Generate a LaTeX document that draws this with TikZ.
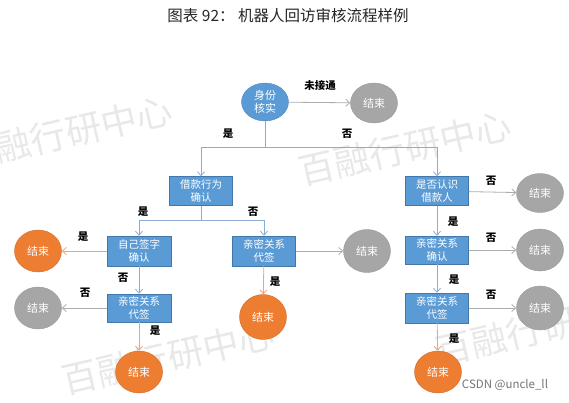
\documentclass[tikz,border=0pt]{standalone}
\usepackage{fontspec}
\setmainfont{Noto Sans CJK SC}
\usetikzlibrary{positioning,arrows.meta,shapes.geometric}
\definecolor{boxblue}{RGB}{91,155,213}
\definecolor{boxedge}{RGB}{65,119,170}
\definecolor{endgray}{RGB}{166,166,166}
\definecolor{endorange}{RGB}{237,125,49}
\definecolor{linkblue}{RGB}{140,172,212}
\definecolor{linkgray}{RGB}{172,172,172}
\definecolor{linkorange}{RGB}{238,165,125}
\definecolor{wmark}{RGB}{232,232,232}
\tikzset{
  chkbox/.style ={rectangle, draw=boxedge, fill=boxblue, text=white, minimum width=63pt,
                minimum height=29pt, inner sep=1pt, align=center, font=\fontsize{10.5}{13.5}\selectfont},
  endnode/.style ={ellipse, minimum width=47pt, minimum height=42pt, inner sep=0pt, align=center,
                text=white, font=\fontsize{11}{13}\selectfont},
  endgrey/.style ={endnode, fill=endgray, draw=endgray!92!black},
  endorg/.style ={endnode, fill=endorange, draw=endorange!88!black},
  ans/.style ={font=\fontsize{10.5}{12}\selectfont\bfseries},
  wm/.style ={text=wmark, font=\fontsize{36}{40}\selectfont, rotate=13},
  blink/.style ={-{Straight Barb[length=4pt,width=7pt]}, draw=linkblue, line width=0.8pt},
  glink/.style ={-{Straight Barb[length=4pt,width=7pt]}, draw=linkgray, line width=0.8pt},
  olink/.style ={-{Straight Barb[length=4pt,width=7pt]}, draw=linkorange, line width=0.8pt},
}
\begin{document}
\begin{tikzpicture}[x=1pt, y=-1pt]
\useasboundingbox (0,0) rectangle (569,402);
% watermarks
\begin{scope}
\clip (0,0) rectangle (569,402);
\node[wm] (wm1) at (66,133) {百融行研中心};
\node[wm] (wm2) at (405,148) {百融行研中心};
\node[wm] (wm3) at (168,357) {百融行研中心};
\node[wm] (wm4) at (542,328) {百融行研中心};
\end{scope}
\node[text=black!85, font=\fontsize{15.5}{18}\selectfont] (title) at (288,16) {图表 92： 机器人回访审核流程样例};

% first check
\node[endnode, fill=boxblue, draw=boxblue!90!black, minimum height=38pt,
      font=\fontsize{11}{12.5}\selectfont] (verify) at (265,102) {身份\\核实};
\node[endgrey, minimum height=40pt] (end0) at (374,103) {结束};
\draw[glink] (verify) -- (end0);
\node[ans] (l0) at (320,86) {未接通};

% second level
\node[chkbox] (loan) at (201,191) {借款行为\\确认};
\node[chkbox] (know) at (437,191) {是否认识\\借款人};
\coordinate (j1) at (265,147);
\draw[blink] (verify) -- (j1) -| (loan);
\draw[blink] (j1) -| (know);
\node[ans] (l1) at (228,134) {是};
\node[ans] (l2) at (347,134) {否};

% left branch
\node[chkbox, minimum width=64pt, minimum height=30pt] (self) at (139,251) {自己签字\\确认};
\node[chkbox, minimum height=30pt] (proxyA) at (264,251) {亲密关系\\代签};
\coordinate (j2) at (201,220);
\draw[blink] (loan) -- (j2) -| (self);
\draw[blink] (j2) -| (proxyA);
\node[ans] (l3) at (143,212) {是};
\node[ans] (l4) at (253,212) {否};

\node[endorg] (end1) at (38,251) {结束};
\draw[olink] (self) -- (end1);
\node[ans] (l5) at (83,237) {是};

\node[chkbox, minimum width=64pt, minimum height=28pt] (proxyB) at (139,308) {亲密关系\\代签};
\draw[blink] (self) -- (proxyB);
\node[ans] (l6) at (123,278) {否};

\node[endgrey] (end2) at (38,308) {结束};
\draw[glink] (proxyB) -- (end2);
\node[ans] (l7) at (85,293) {否};

\node[endorg] (end3) at (139,372) {结束};
\draw[olink] (proxyB) -- (end3);
\node[ans] (l8) at (155,331) {是};

\node[endgrey, minimum height=43pt] (end4) at (367,251) {结束};
\draw[glink] (proxyA) -- (end4);

\node[endorg, minimum height=45pt] (end5) at (263,317) {结束};
\draw[olink] (proxyA) -- (end5);
\node[ans] (l9) at (275,282) {是};

% right branch
\node[endgrey, minimum height=39pt] (end6) at (540,193) {结束};
\draw[glink] (know) -- (end6);
\node[ans] (l10) at (491,181) {否};

\node[chkbox, minimum height=28pt] (rel) at (437,250) {亲密关系\\确认};
\draw[blink] (know) -- (rel);
\node[ans] (l11) at (453,222) {是};

\node[endgrey] (end7) at (540,250) {结束};
\draw[glink] (rel) -- (end7);
\node[ans] (l12) at (491,238) {否};

\node[chkbox, minimum height=30pt] (proxyC) at (437,308) {亲密关系\\代签};
\draw[blink] (rel) -- (proxyC);
\node[ans] (l13) at (454,280) {是};

\node[endgrey, minimum height=44pt] (end8) at (540,308) {结束};
\draw[glink] (proxyC) -- (end8);
\node[ans] (l14) at (491,295) {否};

\node[endorg] (end9) at (438,372) {结束};
\draw[olink] (proxyC) -- (end9);
\node[ans] (l15) at (454,339) {是};

\node[text=black!55, font=\fontsize{11.5}{13}\selectfont] (csdn) at (505,385) {CSDN @uncle\_ll};
\end{tikzpicture}
\end{document}
